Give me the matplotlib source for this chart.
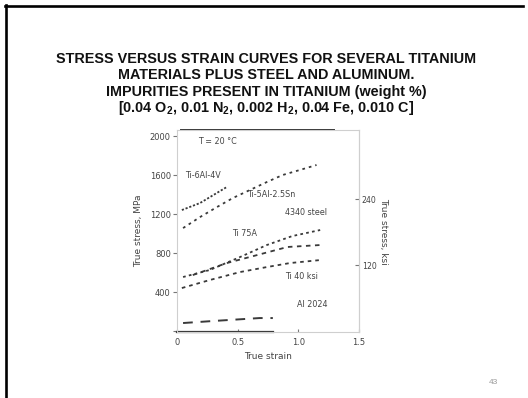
import matplotlib
matplotlib.use("Agg")
import matplotlib.pyplot as plt
from matplotlib.lines import Line2D

plt.rcParams["mathtext.fontset"] = "custom"
plt.rcParams["mathtext.rm"] = "Liberation Sans:bold"
plt.rcParams["mathtext.it"] = "Liberation Sans:bold"
plt.rcParams["mathtext.bf"] = "Liberation Sans:bold"

# ---- data: true stress (MPa) versus true strain ----
ti64_strain = [0.04, 0.19, 0.30, 0.41]
ti64_stress = [1241, 1313, 1395, 1477]

ti525_strain = [0.05, 0.19, 0.33, 0.46, 0.60, 0.74, 0.87, 1.01, 1.15]
ti525_stress = [1056, 1169, 1272, 1364, 1446, 1528, 1600, 1651, 1703]

steel_strain = [0.05, 0.27, 0.52, 0.74, 0.95, 1.18]
steel_stress = [554, 626, 759, 882, 974, 1036]

ti75_strain = [0.13, 0.41, 0.66, 0.91, 1.18]
ti75_stress = [574, 697, 779, 862, 882]

ti40_strain = [0.04, 0.27, 0.52, 0.74, 0.93, 1.18]
ti40_stress = [441, 523, 605, 656, 697, 728]

al_strain = [0.05, 0.30, 0.68, 0.79]
al_stress = [82, 103, 133, 133]

x_ticks = [0, 0.5, 1.0, 1.5]
x_tick_labels = ["0", "0.5", "1.0", "1.5"]
y_ticks = [0, 400, 800, 1200, 1600, 2000]
y_tick_labels = ["", "400", "800", "1200", "1600", "2000"]
ksi_ticks = [120, 240]
MPA_PER_UNIT = 5.64

title_lines = [
    "STRESS VERSUS STRAIN CURVES FOR SEVERAL TITANIUM",
    "MATERIALS PLUS STEEL AND ALUMINUM.",
    "IMPURITIES PRESENT IN TITANIUM (weight %)",
    r"[0.04 O$_2$, 0.01 N$_2$, 0.002 H$_2$, 0.04 Fe, 0.010 C]",
]

W, H = 528, 398
fig = plt.figure(figsize=(W / 100, H / 100), dpi=100)
fig.patch.set_facecolor("white")

# slide frame (top and left edges)
fig.add_artist(Line2D([5 / W, 523 / W], [1 - 6 / H, 1 - 6 / H], color="black", lw=1.9))
fig.add_artist(Line2D([6 / W, 6 / W], [1 - 5 / H, 0], color="black", lw=1.9))

# title block
for i, line in enumerate(title_lines):
    fig.text(266 / W, 1 - (59 + 16.4 * i) / H, line, ha="center", va="center",
             fontsize=10.4, fontweight="bold", family="Liberation Sans", color="#111111")

# page number
fig.text(493 / W, 1 - 383 / H, "43", ha="center", va="center", fontsize=6,
         family="Liberation Sans", color="#9a9a9a")

# inner chart
ax = fig.add_axes([177 / W, 1 - 332 / H, 182 / W, 202 / H])
ax.set_xlim(0, 1.5)
ax.set_ylim(-10, 2062)

ink = "#3a3a3a"
ax.plot(ti64_strain, ti64_stress, color=ink, lw=1.3, ls=(0, (1.2, 1.0)))
ax.plot(ti525_strain, ti525_stress, color=ink, lw=1.3, ls=(0, (1.5, 2.2)))
ax.plot(steel_strain, steel_stress, color=ink, lw=1.3, ls=(0, (1.5, 1.8)))
ax.plot(ti75_strain, ti75_stress, color=ink, lw=1.3, ls=(0, (2.5, 2.5)))
ax.plot(ti40_strain, ti40_stress, color=ink, lw=1.3, ls=(0, (2.0, 2.2)))
ax.plot(al_strain, al_stress, color=ink, lw=1.4, ls=(0, (5, 4)))

lab = dict(fontsize=5.8, color="#444444", family="DejaVu Sans")
ax.text(0.07, 1600, "Ti-6Al-4V", va="center", **lab)
ax.text(0.58, 1400, "Ti-5Al-2.5Sn", va="center", **lab)
ax.text(0.89, 1220, "4340 steel", va="center", **lab)
ax.text(0.45, 1000, "Ti 75A", va="center", **lab)
ax.text(0.89, 560, "Ti 40 ksi", va="center", **lab)
ax.text(0.99, 270, "Al 2024", va="center", **lab)
ax.text(0.17, 1940, "T = 20 °C", va="center", **lab)

for side in ("left", "right", "top", "bottom"):
    ax.spines[side].set_color("#cfcfcf")
    ax.spines[side].set_linewidth(0.8)
ax.plot([0.02, 0.86], [1, 1], transform=ax.transAxes, color="#333333", lw=1.4, clip_on=False)
ax.plot([0.0, 0.53], [0, 0], transform=ax.transAxes, color="#333333", lw=1.6, clip_on=False)

ax.set_xticks(x_ticks)
ax.set_xticklabels(x_tick_labels)
ax.set_yticks(y_ticks)
ax.set_yticklabels(y_tick_labels)
ax.tick_params(axis="x", direction="in", length=2, pad=4, labelsize=6,
               colors="#777777", labelcolor="#444444")
ax.tick_params(axis="y", direction="out", length=3, pad=1.5, labelsize=6,
               colors="#777777", labelcolor="#444444")
ax.set_xlabel("True strain", fontsize=6.5, color="#444444", labelpad=4)
ax.set_ylabel("True stress, MPa", fontsize=6.5, color="#444444", labelpad=5)

sec = ax.secondary_yaxis("right", functions=(lambda m: m / MPA_PER_UNIT,
                                              lambda k: k * MPA_PER_UNIT))
sec.set_yticks(ksi_ticks)
sec.set_yticklabels([str(v) for v in ksi_ticks])
sec.spines["right"].set_color("#cfcfcf")
sec.tick_params(direction="in", length=3, pad=2, labelsize=5.6,
                colors="#777777", labelcolor="#444444")
sec.set_ylabel("True stress, ksi", fontsize=6.5, color="#444444", rotation=270,
               labelpad=8)

fig.savefig("out.png", dpi=100, facecolor="white")
